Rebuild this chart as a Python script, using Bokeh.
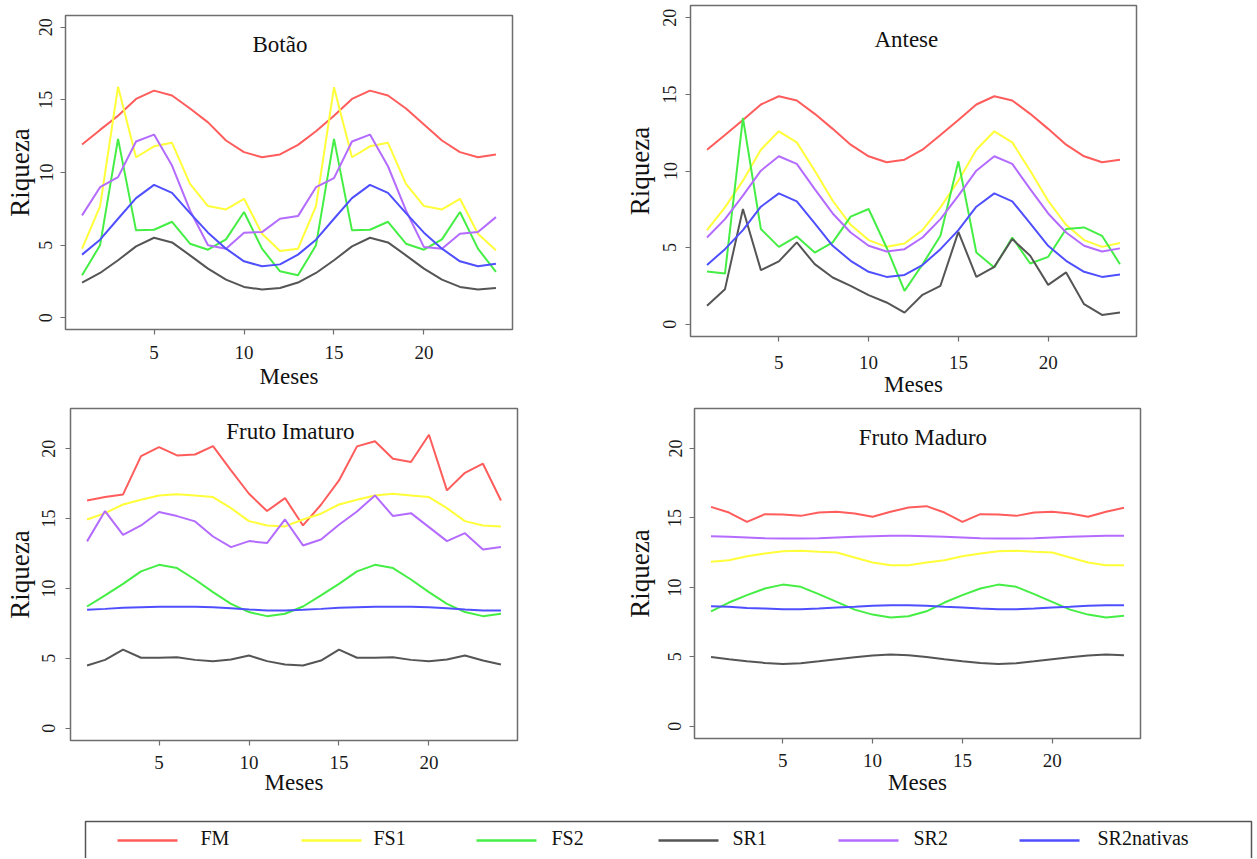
from bokeh.plotting import figure
from bokeh.layouts import column, row
from bokeh.models import Range1d, FixedTicker, Label
from bokeh.embed import file_html
from bokeh.resources import INLINE
from bokeh.core.properties import value

FONT = "Liberation Serif"

months = list(range(1, 25))
series_names = ["FM", "FS1", "FS2", "SR1", "SR2", "SR2nativas"]
colors = ["#FF5C5C", "#FFFF3A", "#45EE45", "#555555", "#B46BFF", "#4F4FFF"]
x_ticks = [5, 10, 15, 20]
y_ticks = [0, 5, 10, 15, 20]

# ---- Botão
botao_FM = [11.92, 12.93, 13.9, 15.06, 15.63, 15.3, 14.4, 13.45, 12.2, 11.4, 11.05, 11.24,
            11.9, 12.84, 13.9, 15.06, 15.63, 15.3, 14.4, 13.3, 12.2, 11.4, 11.05, 11.24]
botao_FS1 = [4.76, 7.67, 15.9, 11.05, 11.8, 12.04, 9.22, 7.69, 7.46, 8.19, 5.79, 4.6,
             4.76, 7.69, 15.86, 11.05, 11.8, 12.04, 9.22, 7.69, 7.46, 8.19, 5.79, 4.65]
botao_FS2 = [2.93, 4.99, 12.31, 6.02, 6.06, 6.61, 5.1, 4.69, 5.4, 7.28, 4.76, 3.2,
             2.93, 4.99, 12.31, 6.02, 6.06, 6.61, 5.1, 4.69, 5.4, 7.28, 4.76, 3.16]
botao_SR1 = [2.43, 3.09, 3.96, 4.92, 5.51, 5.19, 4.3, 3.39, 2.63, 2.13, 1.95, 2.06,
             2.43, 3.09, 3.96, 4.92, 5.51, 5.19, 4.3, 3.39, 2.63, 2.13, 1.95, 2.06]
botao_SR2 = [7.05, 8.99, 9.68, 12.13, 12.61, 10.48, 7.39, 4.99, 4.76, 5.86, 5.9, 6.82,
             7.0, 8.99, 9.61, 12.13, 12.61, 10.43, 7.39, 4.87, 4.76, 5.79, 5.9, 6.93]
botao_SR2nativas = [4.35, 5.38, 6.82, 8.24, 9.15, 8.6, 7.21, 5.86, 4.76, 3.89, 3.55, 3.68,
                    4.35, 5.38, 6.82, 8.24, 9.15, 8.6, 7.21, 5.86, 4.76, 3.89, 3.55, 3.73]

# ---- Antese
antese_FM = [11.39, 12.35, 13.33, 14.34, 14.88, 14.6, 13.73, 12.75, 11.72, 10.96, 10.57, 10.74,
             11.39, 12.35, 13.33, 14.34, 14.88, 14.6, 13.73, 12.75, 11.72, 10.96, 10.57, 10.74]
antese_FS1 = [6.14, 7.63, 9.37, 11.39, 12.59, 11.87, 10.02, 8.06, 6.49, 5.49, 5.05, 5.27,
              6.14, 7.63, 9.37, 11.39, 12.59, 11.87, 10.02, 8.06, 6.49, 5.49, 5.05, 5.3]
antese_FS2 = [3.44, 3.31, 13.46, 6.21, 5.05, 5.73, 4.68, 5.34, 7.02, 7.52, 5.01, 2.18,
              3.9, 5.77, 10.63, 4.68, 3.7, 5.66, 3.96, 4.4, 6.21, 6.32, 5.77, 3.92]
antese_SR1 = [1.2, 2.29, 7.52, 3.53, 4.1, 5.34, 3.92, 3.05, 2.5, 1.9, 1.42, 0.76,
              1.92, 2.51, 6.03, 3.09, 3.75, 5.56, 4.47, 2.57, 3.38, 1.31, 0.61, 0.76]
antese_SR2 = [5.66, 6.86, 8.39, 10.02, 10.96, 10.46, 8.82, 7.23, 5.99, 5.12, 4.75, 4.9,
              5.66, 6.86, 8.39, 10.02, 10.96, 10.46, 8.82, 7.23, 5.99, 5.12, 4.75, 4.95]
antese_SR2nativas = [3.86, 4.9, 6.14, 7.67, 8.54, 8.02, 6.58, 5.12, 4.14, 3.42, 3.09, 3.22,
                     3.86, 4.9, 6.14, 7.67, 8.54, 8.02, 6.58, 5.12, 4.14, 3.42, 3.09, 3.25]

# ---- Fruto Imaturo
imat_FM = [16.3, 16.54, 16.73, 19.47, 20.12, 19.52, 19.59, 20.19, 18.45, 16.78, 15.54, 16.47,
           14.51, 15.99, 17.73, 20.17, 20.53, 19.28, 19.05, 21.0, 17.02, 18.28, 18.93, 16.3]
imat_FS1 = [14.94, 15.39, 16.01, 16.35, 16.66, 16.75, 16.66, 16.54, 15.75, 14.82, 14.51, 14.44,
            14.94, 15.35, 16.01, 16.35, 16.66, 16.78, 16.66, 16.54, 15.75, 14.82, 14.51, 14.44]
imat_FS2 = [8.71, 9.5, 10.33, 11.22, 11.69, 11.46, 10.64, 9.74, 8.9, 8.31, 8.02, 8.19,
            8.71, 9.5, 10.33, 11.22, 11.69, 11.46, 10.64, 9.74, 8.9, 8.31, 8.02, 8.19]
imat_SR1 = [4.49, 4.89, 5.63, 5.04, 5.04, 5.08, 4.89, 4.8, 4.92, 5.2, 4.8, 4.56,
            4.49, 4.84, 5.63, 5.04, 5.04, 5.08, 4.89, 4.8, 4.92, 5.2, 4.84, 4.56]
imat_SR2 = [13.37, 15.54, 13.84, 14.51, 15.47, 15.18, 14.8, 13.72, 12.96, 13.39, 13.25, 14.94,
            13.08, 13.51, 14.56, 15.51, 16.66, 15.18, 15.39, 14.39, 13.39, 13.96, 12.79, 12.96]
imat_SR2nativas = [8.47, 8.54, 8.62, 8.66, 8.69, 8.69, 8.69, 8.66, 8.59, 8.5, 8.42, 8.42,
                   8.47, 8.54, 8.62, 8.66, 8.69, 8.69, 8.69, 8.66, 8.59, 8.5, 8.42, 8.42]

# ---- Fruto Maduro
mad_FM = [15.8, 15.39, 14.72, 15.27, 15.25, 15.15, 15.39, 15.44, 15.32, 15.08, 15.44, 15.75,
          15.85, 15.39, 14.72, 15.27, 15.25, 15.15, 15.39, 15.44, 15.32, 15.08, 15.44, 15.73]
mad_FS1 = [11.84, 11.96, 12.24, 12.44, 12.6, 12.63, 12.56, 12.51, 12.15, 11.79, 11.6, 11.6,
           11.79, 11.96, 12.24, 12.44, 12.6, 12.63, 12.56, 12.51, 12.15, 11.79, 11.6, 11.6]
mad_FS2 = [8.28, 8.91, 9.44, 9.92, 10.2, 10.04, 9.51, 8.96, 8.4, 8.04, 7.83, 7.92,
           8.28, 8.91, 9.44, 9.92, 10.2, 10.04, 9.51, 8.96, 8.4, 8.04, 7.83, 7.95]
mad_SR1 = [4.99, 4.83, 4.68, 4.56, 4.49, 4.54, 4.68, 4.83, 4.97, 5.09, 5.16, 5.11,
           4.99, 4.83, 4.68, 4.56, 4.49, 4.54, 4.68, 4.83, 4.97, 5.09, 5.16, 5.11]
mad_SR2 = [13.69, 13.64, 13.59, 13.54, 13.52, 13.52, 13.54, 13.59, 13.64, 13.69, 13.71, 13.71,
           13.69, 13.64, 13.59, 13.54, 13.52, 13.52, 13.54, 13.59, 13.64, 13.69, 13.71, 13.71]
mad_SR2nativas = [8.64, 8.6, 8.52, 8.48, 8.43, 8.43, 8.48, 8.55, 8.6, 8.67, 8.72, 8.72,
                  8.67, 8.6, 8.55, 8.48, 8.43, 8.43, 8.48, 8.55, 8.6, 8.67, 8.72, 8.72]

panel_titles = ["Botão", "Antese", "Fruto Imaturo", "Fruto Maduro"]


def make_panel(title, series, y_rng, width, height, borders, title_xy,
               xl_standoff, xa_standoff, yl_standoff, ya_standoff):
    left, right, top, bottom = borders
    p = figure(width=width, height=height, x_range=Range1d(0.08, 24.92),
               y_range=Range1d(*y_rng), toolbar_location=None, output_backend="svg",
               min_border_left=left, min_border_right=right,
               min_border_top=top, min_border_bottom=bottom,
               background_fill_color="white", border_fill_color="white")
    for vals, c in zip(series, colors):
        p.line(months, vals, line_color=c, line_width=2)
    p.grid.visible = False
    p.outline_line_color = "#6e6e6e"
    p.outline_line_width = 1.5
    p.xaxis.ticker = FixedTicker(ticks=x_ticks)
    p.yaxis.ticker = FixedTicker(ticks=y_ticks)
    p.axis.axis_line_color = None
    p.axis.major_tick_line_color = "#6e6e6e"
    p.axis.major_tick_line_width = 1.2
    p.axis.major_tick_out = 5
    p.axis.major_tick_in = 0
    p.axis.minor_tick_line_color = None
    p.axis.major_label_text_font = FONT
    p.xaxis.major_label_text_font_size = "19px"
    p.yaxis.major_label_text_font_size = "18px"
    p.axis.major_label_text_color = "#1a1a1a"
    p.yaxis.major_label_orientation = "vertical"
    p.xaxis.axis_label = "Meses"
    p.yaxis.axis_label = "Riqueza"
    p.axis.axis_label_text_font = FONT
    p.axis.axis_label_text_font_style = "normal"
    p.axis.axis_label_text_color = "#111111"
    p.xaxis.axis_label_text_font_size = "23px"
    p.yaxis.axis_label_text_font_size = "27px"
    p.xaxis.major_label_standoff = xl_standoff
    p.xaxis.axis_label_standoff = xa_standoff
    p.yaxis.major_label_standoff = yl_standoff
    p.yaxis.axis_label_standoff = ya_standoff
    p.add_layout(Label(x=title_xy[0], y=title_xy[1], text=title, text_align="center",
                       text_baseline="middle", text_font=FONT, text_font_size="23px",
                       text_color="#111111"))
    return p


p1 = make_panel(panel_titles[0],
                [botao_FM, botao_FS1, botao_FS2, botao_SR1, botao_SR2, botao_SR2nativas],
                (-0.8, 20.8), 620, 400, (65, 108, 15, 71), (12.0, 18.8), 11, 2, 8, 2)
p2 = make_panel(panel_titles[1],
                [antese_FM, antese_FS1, antese_FS2, antese_SR1, antese_SR2, antese_SR2nativas],
                (-0.8, 20.8), 526, 400, (70, 10, 5, 64), (12.1, 18.6), 14, 0, 9, 6)
p3 = make_panel(panel_titles[2],
                [imat_FM, imat_FS1, imat_FS2, imat_SR1, imat_SR2, imat_SR2nativas],
                (-0.88, 22.88), 620, 412, (70, 103, 8, 72), (12.3, 21.2), 10, -2, 10, 5)
p4 = make_panel(panel_titles[3],
                [mad_FM, mad_FS1, mad_FS2, mad_SR1, mad_SR2, mad_SR2nativas],
                (-0.88, 22.88), 530, 412, (74, 10, 8, 74), (12.8, 20.8), 10, 0, 8, 11)

# ---- legend strip
leg_line_x0 = [117, 301, 476, 658, 838, 1019]
leg_text_x = [200, 373, 551, 732, 913, 1097]
leg = figure(width=1254, height=46, x_range=Range1d(0, 1254), y_range=Range1d(858, 812),
             toolbar_location=None, output_backend="svg", min_border=0,
             x_axis_location=None, y_axis_location=None,
             background_fill_color="white", border_fill_color="white")
leg.grid.visible = False
leg.outline_line_color = None
leg.quad(left=[85], right=[1251], top=[821], bottom=[890], fill_color=None,
         line_color="#555555", line_width=1.5)
leg.segment(x0=leg_line_x0, x1=[x + 60 for x in leg_line_x0], y0=[840] * 6, y1=[840] * 6,
            line_color=colors, line_width=2.5)
leg.text(x=leg_text_x, y=[837] * 6, text=series_names, text_font=value(FONT),
         text_font_size="20px", text_baseline="middle", text_color="#111111")

layout = column(row(column(p1), column(p2)), row(column(p3), column(p4)), leg)
open("out.html", "w").write(file_html(layout, INLINE))
